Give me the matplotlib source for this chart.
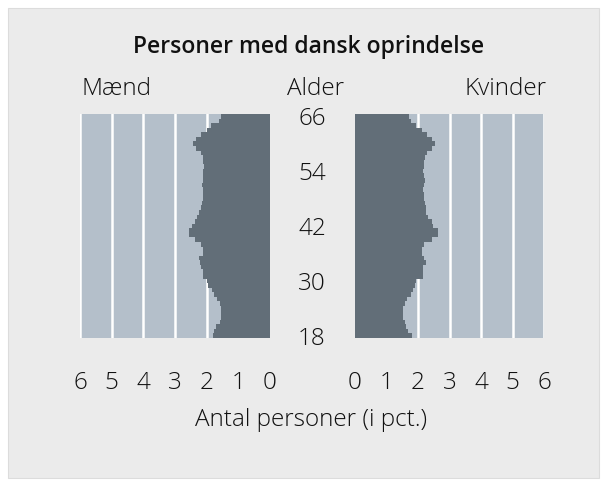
import matplotlib
matplotlib.use("Agg")
import matplotlib.pyplot as plt
import matplotlib.transforms as mtransforms
from matplotlib.patches import Rectangle

plt.rcParams['font.family'] = ['Open Sans', 'DejaVu Sans']

# alder 66 -> 18
ages = list(range(66, 17, -1))
maend = [1.55, 1.61, 1.86, 1.99, 2.18, 2.33, 2.43, 2.33, 2.18, 2.11,
         2.11, 2.08, 2.11, 2.11, 2.11, 2.15, 2.11, 2.11, 2.11, 2.15,
         2.18, 2.24, 2.30, 2.38, 2.45, 2.55, 2.55, 2.36, 2.18, 2.13,
         2.11, 2.24, 2.21, 2.18, 2.11, 2.11, 1.99, 1.96, 1.83, 1.77,
         1.67, 1.58, 1.55, 1.55, 1.55, 1.58, 1.70, 1.77, 1.80]
kvinder = [1.72, 1.78, 1.95, 2.13, 2.29, 2.45, 2.55, 2.45, 2.29, 2.23,
           2.20, 2.20, 2.17, 2.20, 2.23, 2.20, 2.17, 2.20, 2.20, 2.23,
           2.26, 2.26, 2.32, 2.45, 2.49, 2.63, 2.63, 2.44, 2.20, 2.13,
           2.13, 2.20, 2.26, 2.17, 2.17, 2.17, 1.94, 1.91, 1.85, 1.78,
           1.66, 1.59, 1.53, 1.53, 1.53, 1.59, 1.62, 1.69, 1.81]
age_ticks = [18, 30, 42, 54, 66]
x_ticks = [0, 1, 2, 3, 4, 5, 6]

W, H = 607, 486
bg = '#ebebeb'
panel = '#b4bfca'
bar_col = '#626e78'
txt = '#111111'
fs = 17.5
fw = 'light'

fig = plt.figure(figsize=(W / 100, H / 100), dpi=100, facecolor='white')
fig.patches.append(Rectangle((8 / W, 8 / H), 591 / W, 470 / H, transform=fig.transFigure,
                             facecolor=bg, edgecolor='#dcdcdc', linewidth=0.8, zorder=-10))

def px_axes(x0, y0, x1, y1):
    return fig.add_axes([x0 / W, 1 - y1 / H, (x1 - x0) / W, (y1 - y0) / H])

ax_l = px_axes(80, 114, 270, 338)
ax_r = px_axes(355, 114, 544, 338)

for ax, vals in [(ax_l, maend), (ax_r, kvinder)]:
    ax.set_facecolor(panel)
    ax.barh(ages, vals, height=1.0, color=bar_col, linewidth=0, zorder=3)
    ax.set_ylim(17.5, 66.5)
    ax.set_yticks([])
    ax.set_xticks(x_ticks)
    ax.set_xticklabels([str(t) for t in x_ticks], fontweight=fw)
    ax.tick_params(axis='x', length=0, pad=24, labelsize=fs, labelcolor=txt)
    for s in ax.spines.values():
        s.set_visible(False)
    for t in x_ticks[1:]:
        ax.axvline(t, color='white', linewidth=1.8, zorder=1)

ax_l.set_xlim(6, 0)
ax_r.set_xlim(0, 6)

# alder-labels i midten
trans = mtransforms.blended_transform_factory(fig.transFigure, ax_l.transData)
trans = trans + mtransforms.ScaledTranslation(0, -3 / 100, fig.dpi_scale_trans)
for a in age_ticks:
    fig.text(312 / W, a, str(a), transform=trans, ha='center', va='center',
             fontsize=fs, fontweight=fw, color=txt)

fig.text(309 / W, 1 - 47 / H, 'Personer med dansk oprindelse', ha='center', va='center',
         fontsize=16.5, fontweight='semibold', color='#111111')
fig.text(81 / W, 1 - 89 / H, 'Mænd', ha='left', va='center', fontsize=fs, fontweight=fw, color=txt)
fig.text(316 / W, 1 - 89 / H, 'Alder', ha='center', va='center', fontsize=fs, fontweight=fw, color=txt)
fig.text(547 / W, 1 - 89 / H, 'Kvinder', ha='right', va='center', fontsize=fs, fontweight=fw, color=txt)
fig.text(311 / W, 1 - 420 / H, 'Antal personer (i pct.)', ha='center', va='center',
         fontsize=fs, fontweight=fw, color=txt)

fig.savefig('out.png', dpi=100, facecolor=fig.get_facecolor())
